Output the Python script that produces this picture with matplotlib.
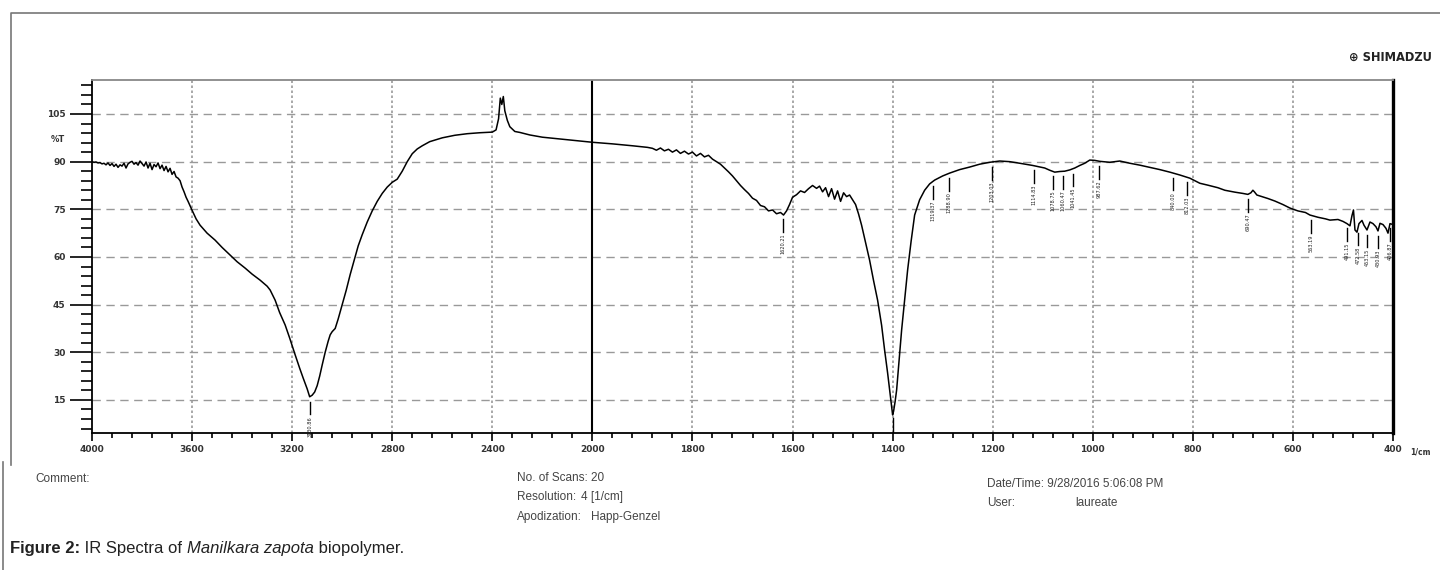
import numpy as np
import matplotlib
matplotlib.use("Agg")
import matplotlib.pyplot as plt
from matplotlib.lines import Line2D
from matplotlib.ticker import FixedLocator

# spectrum (wavenumber in 1/cm, %T)
wavenumber = [
    4000, 3992, 3984, 3976, 3968, 3960, 3952, 3944, 3936, 3928, 3920, 3912,
    3904, 3896, 3888, 3880, 3872, 3864, 3856, 3848, 3840, 3832, 3824, 3816,
    3808, 3800, 3792, 3784, 3776, 3768, 3760, 3752, 3744, 3736, 3728, 3720,
    3712, 3704, 3696, 3688, 3680, 3672, 3664, 3656, 3648, 3640, 3632, 3624,
    3616, 3600, 3584, 3568, 3540, 3508, 3480, 3448, 3420, 3388, 3360, 3328,
    3300, 3288, 3268, 3250, 3228, 3210, 3188, 3170, 3156, 3140, 3130, 3120,
    3110, 3100, 3090, 3080, 3068, 3056, 3048, 3040, 3028, 3016, 3000, 2984,
    2968, 2952, 2936, 2920, 2900, 2880, 2860, 2840, 2820, 2800, 2780, 2760,
    2740, 2720, 2700, 2680, 2650, 2600, 2550, 2500, 2450, 2400, 2385, 2375,
    2368, 2362, 2356, 2350, 2340, 2330, 2310, 2290, 2250, 2200, 2100, 2000,
    1960, 1920, 1890, 1880, 1872, 1864, 1856, 1848, 1840, 1832, 1824, 1816,
    1808, 1800, 1792, 1784, 1776, 1768, 1760, 1752, 1744, 1736, 1728, 1720,
    1712, 1704, 1696, 1688, 1680, 1672, 1664, 1656, 1648, 1640, 1632, 1624,
    1618, 1612, 1606, 1600, 1592, 1584, 1576, 1568, 1560, 1552, 1546, 1540,
    1534, 1528, 1522, 1516, 1510, 1504, 1498, 1492, 1486, 1480, 1474, 1468,
    1462, 1454, 1446, 1438, 1430, 1422, 1416, 1410, 1406, 1402, 1400, 1398,
    1395, 1392, 1387, 1382, 1376, 1370, 1363, 1356, 1346, 1336, 1326, 1316,
    1300, 1286, 1266, 1246, 1226, 1206, 1186, 1166, 1146, 1120, 1096, 1086,
    1076, 1066, 1056, 1046, 1036, 1026, 1016, 1006, 996, 986, 966, 946,
    926, 906, 886, 866, 846, 826, 806, 796, 786, 770, 750, 736,
    716, 700, 690, 684, 680, 677, 672, 666, 650, 636, 620, 606,
    590, 575, 566, 550, 535, 526, 510, 500, 492, 486, 482, 479,
    476, 472, 468, 462, 458, 452, 446, 440, 434, 430, 426, 420,
    414, 410, 406, 400,
]
transmittance = [
    90.0, 89.8, 89.9, 89.6, 89.7, 89.3, 89.5, 89.0, 89.6, 88.8, 89.4, 88.5,
    89.2, 88.2, 89.0, 88.6, 89.5, 88.0, 89.3, 89.8, 90.1, 89.2, 89.7, 88.9,
    90.2, 89.4, 88.6, 89.9, 88.0, 89.5, 87.5, 89.1, 88.4, 89.6, 87.8, 88.9,
    87.2, 88.5, 86.8, 87.9, 86.0, 86.9, 85.2, 84.8, 84.0, 82.0, 80.5, 78.8,
    77.5, 74.7, 72.0, 70.0, 67.5, 65.3, 63.0, 60.6, 58.5, 56.5, 54.6, 52.7,
    50.8, 49.6, 46.4, 42.5, 38.6, 34.5, 29.2, 25.0, 21.9, 18.5, 16.0, 16.5,
    17.5, 19.5, 22.5, 26.0, 30.0, 33.5, 35.5, 36.5, 37.5, 40.5, 45.0, 49.5,
    54.5, 59.0, 63.5, 67.0, 71.0, 74.5, 77.5, 80.0, 82.0, 83.5, 84.5, 87.0,
    90.0, 92.5, 94.0, 95.0, 96.3, 97.5, 98.3, 98.8, 99.1, 99.3, 100.0, 103.5,
    110.0, 108.0, 110.5, 106.0, 103.0, 101.0, 99.5, 99.2, 98.4, 97.7, 96.9, 96.1,
    95.6, 95.0, 94.5, 94.2, 93.6, 94.3, 93.4, 93.9, 93.0, 93.7, 92.6, 93.3,
    92.4, 93.0, 91.8, 92.6, 91.5, 92.0, 90.8, 90.0, 89.2, 88.0, 86.8, 85.5,
    84.0, 82.5, 81.2, 80.0, 78.5, 77.8, 76.2, 75.8, 74.5, 74.8, 73.6, 74.0,
    73.2, 74.5, 76.5, 78.8, 79.6, 80.8, 80.3, 81.5, 82.5, 81.6, 82.3, 80.5,
    81.8, 79.0, 81.5, 78.2, 80.8, 77.5, 80.2, 79.0, 79.5, 78.0, 76.5, 73.5,
    70.0, 64.5, 59.0, 52.5, 46.4, 38.5, 30.7, 23.5, 18.1, 12.5, 10.3, 11.5,
    14.5, 18.1, 27.5, 37.0, 46.5, 55.9, 65.0, 73.2, 78.0, 81.0, 83.0, 84.2,
    85.5, 86.4, 87.5, 88.3, 89.2, 89.8, 90.2, 90.0, 89.5, 88.8, 88.0, 87.3,
    86.7, 86.9, 87.0, 87.4, 88.0, 88.8, 89.5, 90.5, 90.4, 90.1, 89.8, 90.2,
    89.5, 88.9, 88.2, 87.5, 86.7, 85.8, 84.8, 84.0, 83.2, 82.6, 81.8, 81.0,
    80.4, 80.0, 79.7, 80.2, 81.0, 80.5, 79.5, 79.2, 78.4, 77.6, 76.5, 75.4,
    74.5, 74.0, 73.2, 72.5, 72.0, 71.6, 71.8, 71.2, 70.5, 69.8, 73.0, 74.8,
    68.5, 67.8, 70.5, 71.5, 70.0, 68.5, 71.0, 70.5, 69.5, 68.2, 70.6, 70.2,
    69.0, 67.5, 70.5, 70.2,
]

# peak picks printed under the trace
peak_wn = [3130, 1620, 1400, 1320, 1288, 1202, 1118, 1080, 1060, 1040,
           988, 840, 812, 690, 564, 492, 470, 452, 430, 406]
peak_labels = ["3130.86", "1620.21", "1400.32", "1319.37", "1288.90", "1203.03",
               "1114.83", "1078.75", "1060.47", "1041.45", "987.62", "840.00",
               "812.03", "690.47", "563.19", "491.15", "472.58", "453.15",
               "430.93", "406.87"]

x_major = [4000, 3600, 3200, 2800, 2400, 2000, 1800, 1600, 1400, 1200, 1000, 800, 600, 400]
y_major = [15, 30, 45, 60, 75, 90, 105]


def fwd(x):
    x = np.asarray(x, dtype=float)
    return np.where(x > 2000, 2000 + (x - 2000) / 2.0, x)


def inv(u):
    u = np.asarray(u, dtype=float)
    return np.where(u > 2000, 2000 + (u - 2000) * 2.0, u)


W, H = 1440, 570


def fx(px):
    return px / W


def fy(py):
    return 1 - py / H


fig = plt.figure(figsize=(14.4, 5.7), dpi=100)
ax = fig.add_axes([fx(92), fy(433), fx(1393) - fx(92), fy(80) - fy(433)])
ax.set_xscale("function", functions=(fwd, inv))
ax.set_xlim(4000, 400)
ax.set_ylim(4.6, 115.7)
ymin = ax.get_ylim()[0]

ax.plot(wavenumber, transmittance, color="black", lw=1.1, zorder=3)

# peak markers
wn_asc = np.array(wavenumber)[::-1]
t_asc = np.array(transmittance)[::-1]
for p, lab in zip(peak_wn, peak_labels):
    tv = np.interp(p, wn_asc, t_asc)
    if tv - 7.0 < ymin:
        # too close to the axis: only the tick line shows
        ax.plot([p, p], [tv - 1.0, ymin], color="black", lw=1.0, zorder=3)
        continue
    ax.plot([p, p], [tv - 1.5, tv - 5.5], color="black", lw=1.0, zorder=3)
    ax.text(p, tv - 6.0, lab, rotation=90, ha="center", va="top",
            fontsize=3.6, color="#222")

# grid
for y in y_major:
    ax.axhline(y, color="#999999", lw=1.0, ls=(0, (6, 4)), zorder=1)
for x in x_major[1:-1]:
    if x != 2000:
        ax.axvline(x, color="#999999", lw=1.2, ls=(0, (1.5, 1.5)), zorder=1)
ax.axvline(2000, color="black", lw=1.5, zorder=2)

# ticks
minor_x = [v for v in list(range(4000, 2000, -80)) + list(range(2000, 400, -40)) if v not in x_major]
ax.xaxis.set_major_locator(FixedLocator(x_major))
ax.xaxis.set_minor_locator(FixedLocator(minor_x))
ax.set_xticklabels([str(v) for v in x_major])
ax.yaxis.set_major_locator(FixedLocator(y_major))
ax.yaxis.set_minor_locator(FixedLocator([v for v in range(6, 115, 3) if v not in y_major]))
ax.tick_params(axis="y", which="major", direction="out", length=16, width=1.2, pad=3,
               labelsize=6.5, labelcolor="#333")
ax.tick_params(axis="y", which="minor", direction="out", length=8, width=1.2)
ax.tick_params(axis="x", which="major", direction="out", length=6, width=1.2, pad=3,
               labelsize=6.5, labelcolor="#333")
ax.tick_params(axis="x", which="minor", direction="out", length=3.5, width=1.2)
for lab in ax.get_xticklabels() + ax.get_yticklabels():
    lab.set_fontweight("bold")

for s in ["left", "bottom"]:
    ax.spines[s].set_color("black")
    ax.spines[s].set_linewidth(1.3)
ax.spines["top"].set_color("#888888")
ax.spines["top"].set_linewidth(1.3)
ax.spines["right"].set_color("black")
ax.spines["right"].set_linewidth(2.4)

fig.text(fx(65), fy(139), "%T", ha="right", va="center", fontsize=6, fontweight="bold", color="#333")
fig.text(fx(1420), fy(452), "1/cm", ha="center", va="center", fontsize=5.5, fontweight="bold", color="#333")
fig.text(fx(1349), fy(57), "\u2295 SHIMADZU", ha="left", va="center", fontsize=8.3,
         fontweight="bold", color="#222", family="DejaVu Sans")

# frame lines of the printout
fig.add_artist(Line2D([fx(11), fx(11), fx(1440)], [fy(465), fy(13), fy(13)], color="#777", lw=1.2))
fig.add_artist(Line2D([fx(3), fx(3)], [fy(462), fy(570)], color="#777", lw=1.2))

# footer
info = dict(fontsize=8.5, color="#444", family="Liberation Sans", va="center", ha="left")
fig.text(fx(35), fy(479), "Comment:", **info)
fig.text(fx(517), fy(478), "No. of Scans: 20", **info)
fig.text(fx(517), fy(497), "Resolution:", **info)
fig.text(fx(581), fy(497), "4 [1/cm]", **info)
fig.text(fx(517), fy(517), "Apodization:", **info)
fig.text(fx(591), fy(517), "Happ-Genzel", **info)
fig.text(fx(987), fy(484), "Date/Time: 9/28/2016 5:06:08 PM", **info)
fig.text(fx(987), fy(503), "User:", **info)
fig.text(fx(1075), fy(503), "laureate", **info)

# caption, pieces chained one after the other
cap_font = ["Liberation Sans Narrow", "Liberation Sans"]
t1 = fig.text(fx(10), fy(553), "Figure 2:", fontsize=12, fontweight="bold", color="#222",
              family=cap_font, va="baseline")
t2 = ax.annotate(" IR Spectra of ", xy=(1, 0), xycoords=t1, va="bottom", ha="left",
                 fontsize=12, color="#222", family=cap_font, annotation_clip=False)
t3 = ax.annotate("Manilkara zapota", xy=(1, 0), xycoords=t2, va="bottom", ha="left",
                 fontsize=12, color="#222", family=cap_font, style="italic", annotation_clip=False)
ax.annotate(" biopolymer.", xy=(1, 0), xycoords=t3, va="bottom", ha="left",
            fontsize=12, color="#222", family=cap_font, annotation_clip=False)

fig.savefig("out.png", dpi=100)
